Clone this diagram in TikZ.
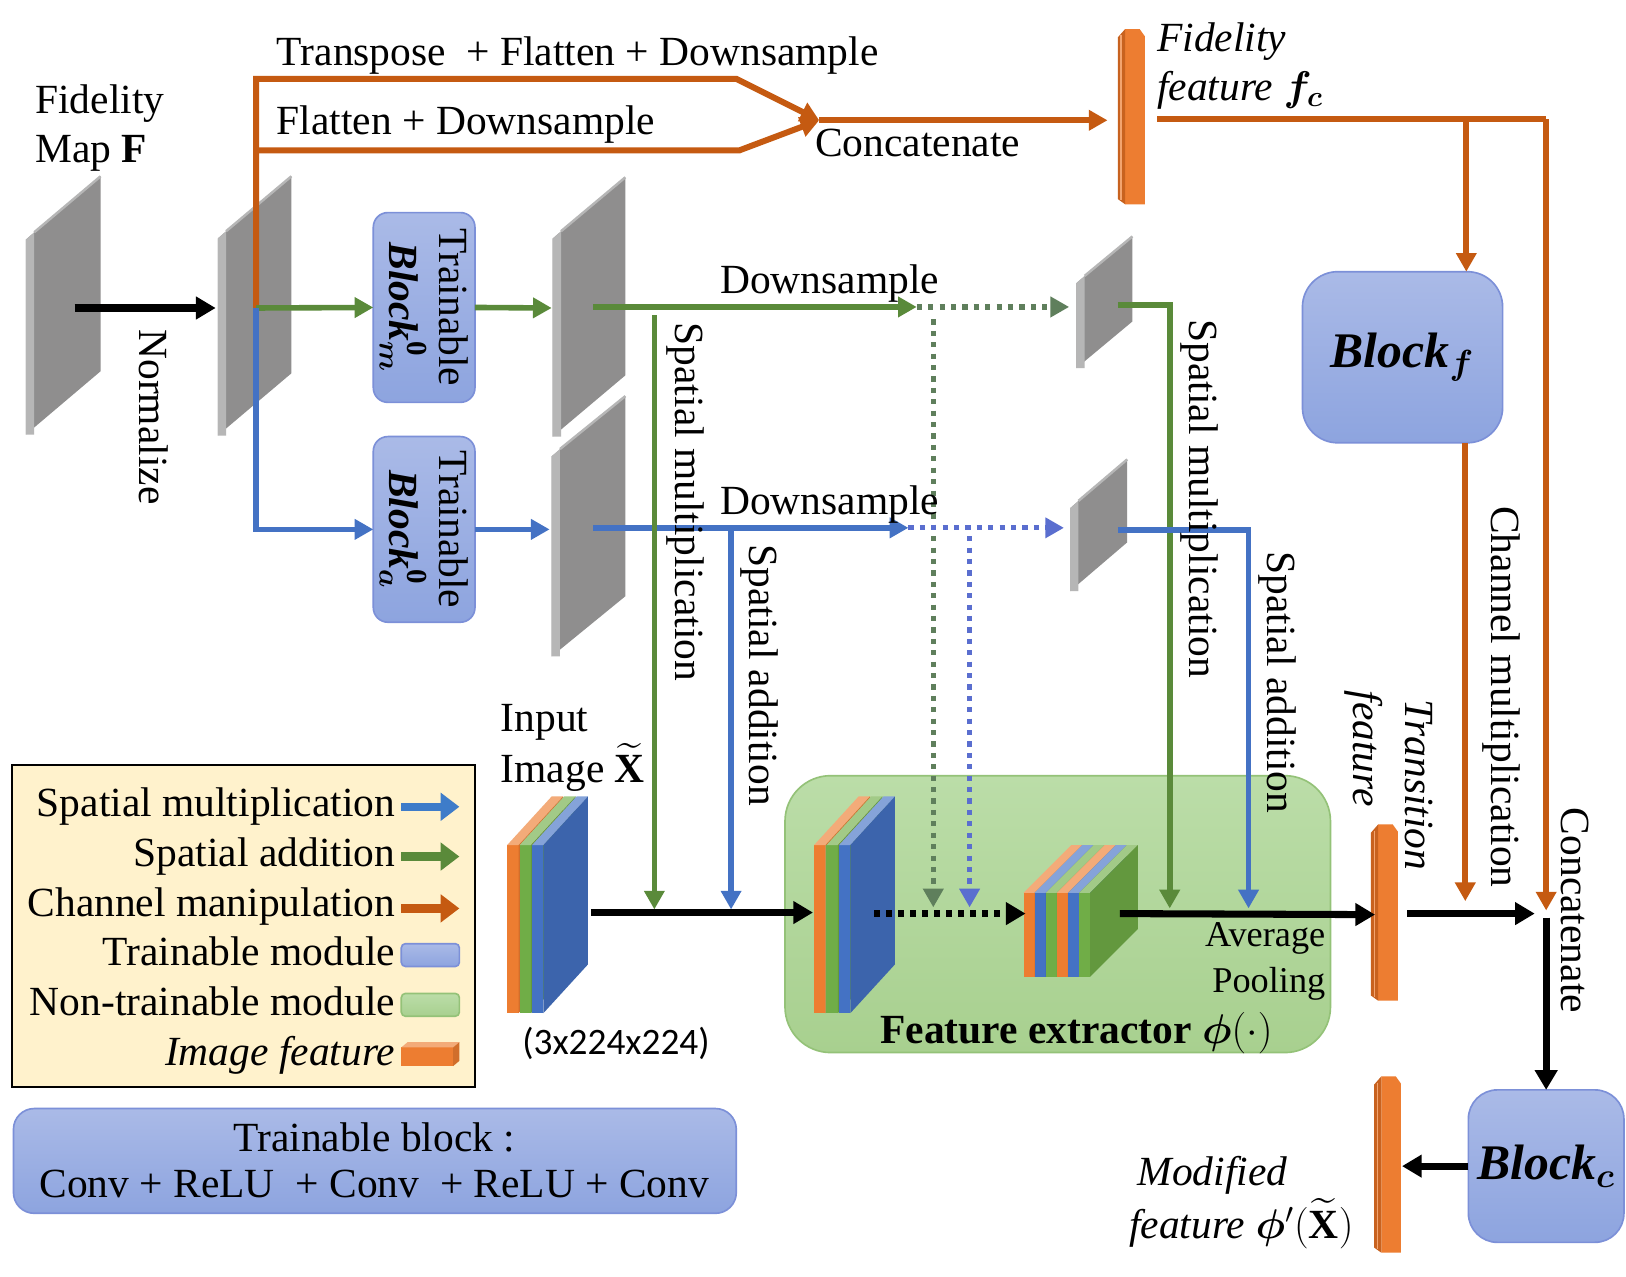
\RequirePackage{fix-cm}
\documentclass[tikz,border=0pt]{standalone}
\usepackage{amsmath}
\usepackage{bm}
\usepackage{fontspec}
\setmainfont{Liberation Serif}
\newfontfamily\carlito{Carlito}
\usetikzlibrary{arrows.meta}

\definecolor{org}{HTML}{C55A11}
\definecolor{grn}{HTML}{5A8A3A}
\definecolor{blu}{HTML}{4472C4}
\definecolor{gdotc}{HTML}{5F7F5C}
\definecolor{bdotc}{HTML}{5A6ECF}
\definecolor{cO}{HTML}{ED7D31}
\definecolor{cOd}{HTML}{C8621F}
\definecolor{cG}{HTML}{70AD47}
\definecolor{cB}{HTML}{4472C4}
\definecolor{bt}{HTML}{AABAE7}
\definecolor{bb}{HTML}{8DA4DF}
\definecolor{bedge}{HTML}{7C90D8}
\definecolor{gt}{HTML}{BBDDA8}
\definecolor{gb}{HTML}{A8D08F}
\definecolor{gedge}{HTML}{94C278}
\definecolor{legbg}{HTML}{FFF2CC}
\definecolor{gface}{HTML}{8F8E8E}
\definecolor{gside}{HTML}{B6B6B6}
\definecolor{lblu}{HTML}{3E7CC9}

\newcommand{\gplane}[5]{%
  \fill[gface] (#1,#3+#4) -- (#2,#3) -- (#2,#3+#5) -- (#1,#3+#4+#5) -- cycle;
  \fill[gside] (#1,#3+#4) -- (#1+8,#3+#4-7) -- (#1+8,#3+#4+#5) -- (#1,#3+#4+#5) -- cycle;
  \draw[gside, line width=1.2pt] (#1+8,#3+#4-7) -- (#2,#3);
}
\newcommand{\slab}[7]{%
  \fill[#7] (#1,#2) rectangle (#1+#4,#3);
  \fill[#7!65!white] (#1,#2) -- (#1+#4,#2) -- (#1+#4+#5,#2-#6) -- (#1+#5,#2-#6) -- cycle;
  \fill[#7!88!black] (#1+#4,#2) -- (#1+#4+#5,#2-#6) -- (#1+#4+#5,#3-#6) -- (#1+#4,#3) -- cycle;
}
\newcommand{\obar}[3]{%
  \fill[cO] (#1+7,#2) -- (#1+21,#2) -- (#1+26,#2+7) -- (#1+26,#3) -- (#1+7,#3) -- cycle;
  \fill[cOd] (#1,#2+8) -- (#1+7,#2) -- (#1+7,#3) -- (#1,#3-5) -- cycle;
  \draw[cO!70!white, line width=0.5pt] (#1+3,#2+6) -- (#1+3,#3-4);
}

\tikzset{
  gl/.style={draw=grn, line width=2.7pt},
  bl/.style={draw=blu, line width=2.7pt},
  gdl/.style={draw=gdotc, line width=2.5pt, dash pattern=on 2.5pt off 3pt},
  bdl/.style={draw=bdotc, line width=2.5pt, dash pattern=on 2.5pt off 3pt},
  ol/.style={draw=org, line width=2.9pt},
  kl/.style={draw=black, line width=3.4pt},
  kdots/.style={dash pattern=on 2.8pt off 3pt},
  tipg/.style={-{Triangle[length=9pt,width=9.5pt]}},
  tipo/.style={-{Triangle[length=9pt,width=9.5pt]}},
  tipk/.style={-{Triangle[length=9.5pt,width=10.5pt]}},
  tblk/.style={draw=bedge, line width=0.8pt, top color=bt, bottom color=bb, rounded corners=7pt},
  ntblk/.style={draw=gedge, line width=0.8pt, top color=gt, bottom color=gb, rounded corners=22pt},
}

\begin{document}
\begin{tikzpicture}[x=0.5pt,y=-0.5pt,
  every node/.style={inner sep=0pt, outer sep=0pt, font=\fontsize{20}{24}\selectfont}]
\useasboundingbox (0,0) rectangle (1568,1231);
\fill[white] (0,0) rectangle (1568,1231);

% ---------- boxes ----------
\node[draw=black, line width=1pt, fill=legbg, minimum width=223pt, minimum height=155pt, anchor=north west] (leg) at (12,738) {};
\node[tblk, rounded corners=10pt, minimum width=348.5pt, minimum height=50.5pt, anchor=north west] (tbox) at (13,1069) {};
\node[ntblk, minimum width=263pt, minimum height=133.5pt, anchor=north west] (fext) at (757,748) {};
\node[tblk, minimum width=49pt, minimum height=91.5pt, anchor=north west] (bm) at (360,205) {};
\node[tblk, minimum width=49pt, minimum height=89.5pt, anchor=north west] (ba) at (360,421) {};
\node[tblk, rounded corners=17pt, minimum width=96.5pt, minimum height=82.5pt, anchor=north west] (bf) at (1256,262) {};
\node[tblk, rounded corners=14pt, minimum width=75pt, minimum height=73.5pt, anchor=north west] (bc) at (1416,1051) {};

% ---------- gray planes ----------
\gplane{25}{97}{170}{61}{188}
\gplane{210}{281}{170}{60}{190}
\gplane{533}{603}{171}{59}{191}
\gplane{532}{603}{382}{58}{193}
\gplane{1038}{1092}{228}{45}{82}
\gplane{1032}{1087}{443}{47}{80}

% ---------- image stacks ----------
\slab{489}{815}{977}{11}{43}{47}{cO}
\slab{501}{815}{977}{11}{43}{47}{cG}
\slab{513}{815}{977}{11}{43}{47}{cB}
\slab{785}{815}{977}{11}{43}{47}{cO}
\slab{797}{815}{977}{11}{43}{47}{cG}
\slab{809}{815}{977}{11}{43}{47}{cB}
\slab{987}{861}{942}{10.7}{46}{46}{cO}
\slab{997.7}{861}{942}{10.7}{46}{46}{cB}
\slab{1008.4}{861}{942}{10.7}{46}{46}{cG}
\slab{1019.1}{861}{942}{10.7}{46}{46}{cO}
\slab{1029.8}{861}{942}{10.7}{46}{46}{cB}
\slab{1040.5}{861}{942}{10.7}{46}{46}{cG}

% ---------- feature bars ----------
\obar{1078}{28}{197}
\obar{1322}{795}{965}
\obar{1325}{1038}{1208}

% ---------- legend icons ----------
\coordinate (la1) at (387,778); \coordinate (la1e) at (443,778);
\coordinate (la2) at (387,826); \coordinate (la2e) at (443,826);
\coordinate (la3) at (387,876); \coordinate (la3e) at (443,876);
\draw[lblu, line width=4pt, -{Triangle[length=9pt,width=13pt]}] (la1) -- (la1e);
\draw[grn, line width=4pt, -{Triangle[length=9pt,width=13pt]}] (la2) -- (la2e);
\draw[org, line width=4pt, -{Triangle[length=9pt,width=13pt]}] (la3) -- (la3e);
\node[tblk, rounded corners=2pt, minimum width=28pt, minimum height=11pt, anchor=north west] (li4) at (387,910) {};
\node[ntblk, rounded corners=2pt, minimum width=28pt, minimum height=11pt, anchor=north west] (li5) at (387,958) {};
\slab{387}{1010}{1028}{50}{6}{5}{cO}

% ---------- coordinates ----------
\coordinate (p1c) at (72,297);
\coordinate (p2w) at (208,297);
\coordinate (p2c) at (247,297);
\coordinate (p3w) at (532,297);
\coordinate (p4w) at (530,510.5);
\coordinate (oA) at (247,76);
\coordinate (oB) at (710,76);
\coordinate (oC) at (247,145);
\coordinate (oD) at (713,145);
\coordinate (cc) at (790,116);
\coordinate (fbw) at (1068,116);
\coordinate (fbe) at (1116,115);
\coordinate (oE) at (1414,115);
\coordinate (oF) at (1491,115);
\coordinate (catp) at (1491,878);
\coordinate (cmt) at (1413,869);
\coordinate (p3c) at (572,296);
\coordinate (ds1) at (884,296);
\coordinate (p5w) at (1031,296);
\coordinate (gv1t) at (631,304);
\coordinate (gv1b) at (631,877);
\coordinate (gdt) at (900,308);
\coordinate (gdb) at (900,875);
\coordinate (p5c) at (1078,294);
\coordinate (g5) at (1128,294);
\coordinate (g5b) at (1128,876);
\coordinate (p4c) at (572,509);
\coordinate (ds2) at (876,509);
\coordinate (p6w) at (1026,509);
\coordinate (bv1t) at (705,509);
\coordinate (bv1b) at (705,877);
\coordinate (bdt) at (935,517);
\coordinate (bdb) at (935,875);
\coordinate (p6c) at (1078,511);
\coordinate (b6) at (1204,511);
\coordinate (b6b) at (1204,876);
\coordinate (inR) at (570,880);
\coordinate (s2w) at (784,880);
\coordinate (s2c) at (843,881);
\coordinate (s3w) at (989,881);
\coordinate (s3c) at (1080,881);
\coordinate (tbw) at (1326,882);
\coordinate (tbe) at (1357,881);
\coordinate (catw) at (1480,881);
\coordinate (cats) at (1491,885);
\coordinate (mbe) at (1352,1125);

% ---------- connectors ----------
\draw[kl,tipk] (p1c) -- (p2w);
\draw[ol,tipo] (p2c) -- (oA) -- (oB) -- (cc);
\draw[ol,tipo] (oC) -- (oD) -- (cc);
\draw[ol,tipo] (cc) -- (fbw);
\draw[ol] (fbe) -- (oF);
\draw[ol,tipo] (oE) -- (oE |- bf.north);
\draw[ol,tipo] (oF) -- (catp);
\draw[ol,tipo] (cmt |- bf.south) -- (cmt);
\draw[gl,tipg] (p2c) -- (bm.west);
\draw[gl,tipg] (bm.east) -- (p3w);
\draw[bl,tipg] (p2c) |- (ba.west);
\draw[bl,tipg] (ba.east) -- (p4w);

\draw[gdl,tipg] (gdt) -- (gdb);
\draw[bdl,tipg] (bdt) -- (bdb);
\draw[gl,tipg] (p3c) -- (ds1);
\draw[gdl,tipg] (ds1) -- (p5w);
\draw[bl,tipg] (p4c) -- (ds2);
\draw[bdl,tipg] (ds2) -- (p6w);
\draw[gl,tipg] (gv1t) -- (gv1b);
\draw[bl,tipg] (bv1t) -- (bv1b);
\draw[gl,tipg] (p5c) -- (g5) -- (g5b);
\draw[bl,tipg] (p6c) -- (b6) -- (b6b);

\draw[kl,tipk] (inR) -- (s2w);
\draw[kl,kdots,tipk] (s2c) -- (s3w);
\draw[kl,tipk] (s3c) -- (tbw);
\draw[kl,tipk] (tbe) -- (catw);
\draw[kl,tipk] (cats) -- (cats |- bc.north);
\draw[kl,tipk] (bc.west) -- (mbe |- bc.west);

% ---------- texts ----------
\node[anchor=base west] (t1) at (267,63) {Transpose\ \ + Flatten + Downsample};
\node[anchor=base west] (t2) at (267,130) {Flatten + Downsample};
\node[anchor=base west] (t3) at (786,151) {Concatenate};
\node[anchor=base west] (fm1) at (34,109) {Fidelity};
\node[anchor=base west] (fm2) at (34,157) {Map \textbf{F}};
\node[anchor=base west] (ff1) at (1116,50) {\textit{Fidelity}};
\node[anchor=base west] (ff2) at (1116,97) {\textit{feature} $\bm{f}_{\bm{c}}$};
\node[anchor=base] (dst1) at (800,283) {Downsample};
\node[anchor=base] (dst2) at (800,496) {Downsample};
\node[rotate=-90] (nrm) at (148,402) {Normalize};
\node[rotate=-90] (sm1) at (661,484) {Spatial multiplication};
\node[rotate=-90] (sa1) at (732,651) {Spatial addition};
\node[rotate=-90] (sm2) at (1157,481) {Spatial multiplication};
\node[rotate=-90] (sa2) at (1232,658) {Spatial addition};
\node[rotate=-90] (chm) at (1448,672) {Channel multiplication};
\node[rotate=-90] (cc2) at (1519,878) {Concatenate};
\node[rotate=-90] (trt) at (1368,757) {\textit{Transition}};
\node[rotate=-90] (fet) at (1315,722) {\textit{feature}};
\node[rotate=-90, align=center] (bmt) at (bm.center) {Trainable\\ $\mbox{\textbf{\textit{Block}}}^{\mathbf{0}}_{\bm{m}}$};
\node[rotate=-90, align=center] (bat) at (ba.center) {Trainable\\ $\mbox{\textbf{\textit{Block}}}^{\mathbf{0}}_{\bm{a}}$};
\node[font=\fontsize{24}{28}\selectfont] (bft) at (bf.center) {\textbf{\textit{Block}}$_{\bm{f}}$};
\node[font=\fontsize{24}{28}\selectfont] (bct) at (bc.center) {\textbf{\textit{Block}}$_{\bm{c}}$};
\node[anchor=base west] (in1) at (483,705) {Input};
\node[anchor=base west] (in2) at (483,755) {Image $\smash{\widetilde{\mbox{\textbf{X}}}}$};
\node[font=\carlito\fontsize{18}{22}\selectfont, anchor=base] (dim) at (594,1017) {(3x224x224)};
\node[anchor=base east, font=\fontsize{17.5}{21}\selectfont] (av1) at (1278,913) {Average};
\node[anchor=base east, font=\fontsize{17.5}{21}\selectfont] (av2) at (1278,957) {Pooling};
\node[anchor=base] (fxt) at (1038,1006) {\textbf{Feature extractor} $\bm{\phi}(\cdot)$};
\node[anchor=base west] (mf1) at (1097,1143) {\textit{Modified}};
\node[anchor=base west] (mf2) at (1089,1194) {\textit{feature} $\bm{\phi}'(\smash{\widetilde{\mbox{\textbf{X}}}})$};

\node[anchor=base east] (lg1) at (381,787) {Spatial multiplication};
\node[anchor=base east] (lg2) at (381,836) {Spatial addition};
\node[anchor=base east] (lg3) at (381,884) {Channel manipulation};
\node[anchor=base east] (lg4) at (381,931) {Trainable module};
\node[anchor=base east] (lg5) at (381,979) {Non-trainable module};
\node[anchor=base east] (lg6) at (381,1027) {\textit{Image feature}};

\node[anchor=base] (tb1) at (361,1110) {Trainable block :};
\node[anchor=base] (tb2) at (361,1155) {Conv + ReLU\ \ + Conv\ \ + ReLU + Conv};
\end{tikzpicture}
\end{document}
